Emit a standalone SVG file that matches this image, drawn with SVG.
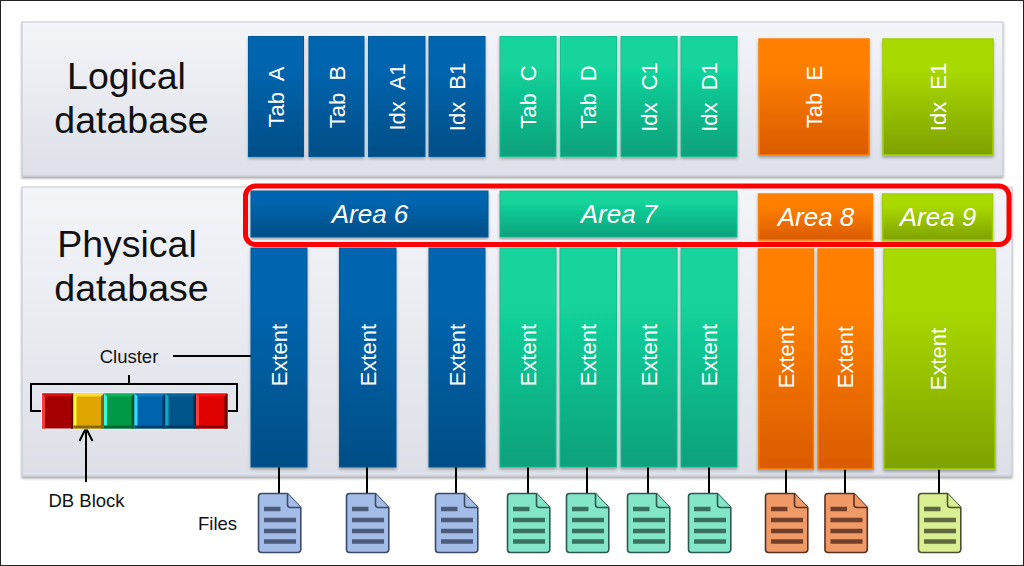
<svg xmlns="http://www.w3.org/2000/svg" xmlns:xlink="http://www.w3.org/1999/xlink" width="1024" height="566" viewBox="0 0 1024 566">
<style>
text{font-family:"Liberation Sans",Arial,sans-serif}
.big{font-size:37.500px;fill:#111;text-anchor:middle}
.small{font-size:18.500px;fill:#111;text-anchor:middle}
.v{font-size:22px;fill:#fff;text-anchor:middle;word-spacing:6px}
.a{font-size:26px;fill:#fff;text-anchor:middle;font-style:italic}
.panel{fill:url(#gp);stroke:#c4c6cc;stroke-width:1;filter:url(#ps)}
.blue{fill:url(#gb);stroke:#005a9a;stroke-width:1;filter:url(#bs)}
.teal{fill:url(#gt);stroke:#12c090;stroke-width:1;filter:url(#bs)}
.orange{fill:url(#go);stroke:#ff8000;stroke-width:1.5;filter:url(#bs)}
.lime{fill:url(#gl);stroke:#a0d000;stroke-width:1.5;filter:url(#bs)}
.line{stroke:#000;stroke-width:2;fill:none}
.fb{fill:#a3bde8;stroke:#3d4a66}
.ft{fill:#84e6c8;stroke:#2d5a50}
.fo{fill:#f09a68;stroke:#5c3020}
.fl{fill:#d9ef92;stroke:#4a5030}
</style>
<defs>
<linearGradient id="gp" x1="0" y1="0" x2="0" y2="1"><stop offset="0" stop-color="#f4f5f9"/><stop offset="1" stop-color="#dde0e8"/></linearGradient>
<linearGradient id="gb" x1="0" y1="0" x2="0" y2="1"><stop offset="0.25" stop-color="#0065ae"/><stop offset="1" stop-color="#004e86"/></linearGradient>
<linearGradient id="gt" x1="0" y1="0" x2="0" y2="1"><stop offset="0.25" stop-color="#12d49b"/><stop offset="1" stop-color="#0ea07c"/></linearGradient>
<linearGradient id="go" x1="0" y1="0" x2="0" y2="1"><stop offset="0.25" stop-color="#ff8000"/><stop offset="1" stop-color="#d95b00"/></linearGradient>
<linearGradient id="gl" x1="0" y1="0" x2="0" y2="1"><stop offset="0.25" stop-color="#a9da00"/><stop offset="1" stop-color="#7fa100"/></linearGradient>
<filter id="ps" x="-2%" y="-5%" width="104%" height="110%"><feDropShadow dx="0" dy="2" stdDeviation="1.2" flood-color="#000" flood-opacity=".35"/></filter>
<filter id="bs" x="-10%" y="-5%" width="120%" height="110%"><feDropShadow dx="0" dy="2" stdDeviation="1.5" flood-color="#000" flood-opacity=".3"/></filter>
<marker id="open" markerUnits="userSpaceOnUse" markerWidth="18" markerHeight="18" refX="14" refY="7" orient="auto"><path d="M1,0.5 L14,7 L1,13.5" fill="none" stroke="#000" stroke-width="2"/></marker>
<symbol id="file" width="44" height="61" viewBox="-1 -1 44 61" overflow="visible">
<path d="M3,0 H29 L42.3,14 V56 a3,3 0 0 1 -3,3 H3 a3,3 0 0 1 -3,-3 V3 a3,3 0 0 1 3,-3 Z" stroke-width="1.6"/>
<path d="M29,0 V11 a3,3 0 0 0 3,3 H42.3" stroke-width="1.6"/>
<g stroke-width="4.5" stroke-opacity=".85" fill="none"><path d="M5.5,15.5 H22"/><path d="M5.5,26.5 H37.5"/><path d="M5.5,37.5 H37.5"/><path d="M5.5,48 H37.5"/></g>
</symbol>
</defs>
<rect x="0.5" y="0.5" width="1023" height="565" fill="#fff" stroke="#222" stroke-width="1"/>
<g id="panel-logical"><rect class="panel" x="22" y="22" width="981" height="154"/><text class="big" x="126.500" y="89">Logical</text><text class="big" x="131.500" y="133">database</text></g>
<g id="panel-physical"><rect class="panel" x="22" y="187" width="990" height="289"/><text class="big" x="127" y="257">Physical</text><text class="big" x="131.500" y="301">database</text></g>
<g id="connectors">
<path class="line" d="M279,467 V493 M367,467 V493 M456,467 V493 M528,467 V493 M587,467 V493 M648,467 V493 M709,467 V493 M786,469 V493 M845,469 V493 M939,469 V493"/>
<path class="line" d="M173,356 H251"/>
<path class="line" d="M129,375 V384 M42,411 H31 V384 H237 V411 H227"/>
<path class="line" d="M86,482 V428" marker-end="url(#open)"/>
</g>
<g id="tab-a"><rect class="blue" x="248.500" y="36.500" width="55" height="120"/><text class="v" transform="translate(284,97) rotate(-90)">Tab A</text></g>
<g id="tab-b"><rect class="blue" x="309" y="36.500" width="55" height="120"/><text class="v" transform="translate(345,97) rotate(-90)">Tab B</text></g>
<g id="idx-a1"><rect class="blue" x="368.500" y="36.500" width="56.500" height="120"/><text class="v" transform="translate(405,97) rotate(-90)">Idx A1</text></g>
<g id="idx-b1"><rect class="blue" x="429" y="36.500" width="56" height="120"/><text class="v" transform="translate(465,97) rotate(-90)">Idx B1</text></g>
<g id="tab-c"><rect class="teal" x="500" y="36.500" width="56" height="120"/><text class="v" transform="translate(536,97) rotate(-90)">Tab C</text></g>
<g id="tab-d"><rect class="teal" x="560.500" y="36.500" width="56" height="120"/><text class="v" transform="translate(596,97) rotate(-90)">Tab D</text></g>
<g id="idx-c1"><rect class="teal" x="621" y="36.500" width="56" height="120"/><text class="v" transform="translate(657,97) rotate(-90)">Idx C1</text></g>
<g id="idx-d1"><rect class="teal" x="681" y="36.500" width="56" height="120"/><text class="v" transform="translate(717,97) rotate(-90)">Idx D1</text></g>
<g id="tab-e"><rect class="orange" x="759" y="39" width="110" height="116"/><text class="v" transform="translate(822,97) rotate(-90)">Tab E</text></g>
<g id="idx-e1"><rect class="lime" x="883" y="39" width="110" height="116"/><text class="v" transform="translate(946,97) rotate(-90)">Idx E1</text></g>
<g id="area-6"><rect class="blue" x="251" y="191" width="237" height="46"/><text class="a" x="370" y="223">Area 6</text></g>
<g id="area-7"><rect class="teal" x="500" y="191" width="237" height="46"/><text class="a" x="619" y="223">Area 7</text></g>
<g id="area-8"><rect class="orange" x="758.500" y="194" width="114" height="46"/><text class="a" x="816" y="226">Area 8</text></g>
<g id="area-9"><rect class="lime" x="882.500" y="194" width="110" height="46"/><text class="a" x="938" y="226">Area 9</text></g>
<g id="extent-1"><rect class="blue" x="251" y="248" width="56" height="219"/><text class="v" transform="translate(287,355) rotate(-90)">Extent</text></g>
<g id="extent-2"><rect class="blue" x="339.500" y="248" width="56.500" height="219"/><text class="v" transform="translate(376,355) rotate(-90)">Extent</text></g>
<g id="extent-3"><rect class="blue" x="429" y="248" width="56" height="219"/><text class="v" transform="translate(465,355) rotate(-90)">Extent</text></g>
<g id="extent-4"><rect class="teal" x="500" y="248" width="56" height="219"/><text class="v" transform="translate(536,355) rotate(-90)">Extent</text></g>
<g id="extent-5"><rect class="teal" x="560" y="248" width="56.500" height="219"/><text class="v" transform="translate(596,355) rotate(-90)">Extent</text></g>
<g id="extent-6"><rect class="teal" x="621" y="248" width="56" height="219"/><text class="v" transform="translate(657,355) rotate(-90)">Extent</text></g>
<g id="extent-7"><rect class="teal" x="681" y="248" width="56" height="219"/><text class="v" transform="translate(717,355) rotate(-90)">Extent</text></g>
<g id="extent-8"><rect class="orange" x="758.500" y="249" width="55" height="220"/><text class="v" transform="translate(794,357) rotate(-90)">Extent</text></g>
<g id="extent-9"><rect class="orange" x="818" y="249" width="55" height="220"/><text class="v" transform="translate(853,357) rotate(-90)">Extent</text></g>
<g id="extent-10"><rect class="lime" x="884" y="249" width="111" height="220"/><text class="v" transform="translate(946,359) rotate(-90)">Extent</text></g>
<rect id="area-highlight" x="245.500" y="186" width="763.500" height="58.500" rx="10" fill="none" stroke="#f00" stroke-width="5"/>
<g id="cluster">
<rect x="41" y="392.500" width="187" height="37" fill="#fff" opacity=".8"/>
<g id="db-block-1"><rect x="42" y="393.500" width="31.500" height="35" fill="#a50000"/><path d="M42,393.500 h31.500 l-2,3 h-27 Z" fill="#d81010"/><path d="M42,393.500 l3,3 v32 h-3 Z" fill="#ff3838"/><path d="M73.500,393.500 v35 h-2.500 v-32 Z" fill="#5c0000"/></g>
<g id="db-block-2"><rect x="73.500" y="393.500" width="30.500" height="35" fill="#dfa500"/><path d="M73.500,393.500 h30.500 l-3,3 h-25 Z" fill="#ffe030"/><path d="M73.500,393.500 l3,3 v32 h-3 Z" fill="#ffff30"/><path d="M104,393.500 v35 h-3 v-32 Z" fill="#7d5f00"/><rect x="73.500" y="425.500" width="30.500" height="3" fill="#8a6a00"/></g>
<g id="db-block-3"><rect x="104" y="393.500" width="30.500" height="35" fill="#009a46"/><path d="M104,393.500 h30.500 l-3,3 h-25 Z" fill="#10b060"/><path d="M104,393.500 l3,3 v32 h-3 Z" fill="#33ffdd"/><path d="M134.500,393.500 v35 h-3 v-32 Z" fill="#00552a"/><rect x="104" y="425.500" width="30.500" height="3" fill="#006633"/></g>
<g id="db-block-4"><rect x="134.500" y="393.500" width="31" height="35" fill="#0064ac"/><path d="M134.500,393.500 h31 l-3,3 h-25 Z" fill="#1078c0"/><path d="M134.500,393.500 l3,3 v32 h-3 Z" fill="#33ddff"/><path d="M165.500,393.500 v35 h-3 v-32 Z" fill="#003860"/><rect x="134.500" y="425.500" width="31" height="3" fill="#004070"/></g>
<g id="db-block-5"><rect x="165.500" y="393.500" width="30.500" height="35" fill="#00558a"/><path d="M165.500,393.500 h30.500 l-3,3 h-25 Z" fill="#06669e"/><path d="M165.500,393.500 l3,3 v32 h-3 Z" fill="#00b0c8"/><path d="M196,393.500 v35 h-3 v-32 Z" fill="#00304e"/><rect x="165.500" y="425.500" width="30.500" height="3" fill="#003a60"/></g>
<g id="db-block-6"><rect x="196" y="393.500" width="31.500" height="35" fill="#e00000"/><path d="M196,393.500 h31.500 l-3,3 h-26 Z" fill="#ff1010"/><path d="M196,393.500 l3,3 v32 h-3 Z" fill="#ff3838"/><path d="M227.500,393.500 v35 h-3 v-32 Z" fill="#600000"/><rect x="196" y="425.500" width="31.500" height="3" fill="#900000"/></g>
</g>
<text id="label-cluster" class="small" x="129" y="362.500">Cluster</text>
<text id="label-db-block" class="small" x="86.500" y="507">DB Block</text>
<text id="label-files" class="small" x="217.500" y="530">Files</text>
<g id="file-1"><use xlink:href="#file" href="#file" class="fb" x="257.500" y="492.500"/></g>
<g id="file-2"><use xlink:href="#file" href="#file" class="fb" x="345.500" y="492.500"/></g>
<g id="file-3"><use xlink:href="#file" href="#file" class="fb" x="434.500" y="492.500"/></g>
<g id="file-4"><use xlink:href="#file" href="#file" class="ft" x="506.500" y="492.500"/></g>
<g id="file-5"><use xlink:href="#file" href="#file" class="ft" x="565.500" y="492.500"/></g>
<g id="file-6"><use xlink:href="#file" href="#file" class="ft" x="626.500" y="492.500"/></g>
<g id="file-7"><use xlink:href="#file" href="#file" class="ft" x="687.500" y="492.500"/></g>
<g id="file-8"><use xlink:href="#file" href="#file" class="fo" x="764.500" y="492.500"/></g>
<g id="file-9"><use xlink:href="#file" href="#file" class="fo" x="824" y="492.500"/></g>
<g id="file-10"><use xlink:href="#file" href="#file" class="fl" x="917.500" y="492.500"/></g>
</svg>
